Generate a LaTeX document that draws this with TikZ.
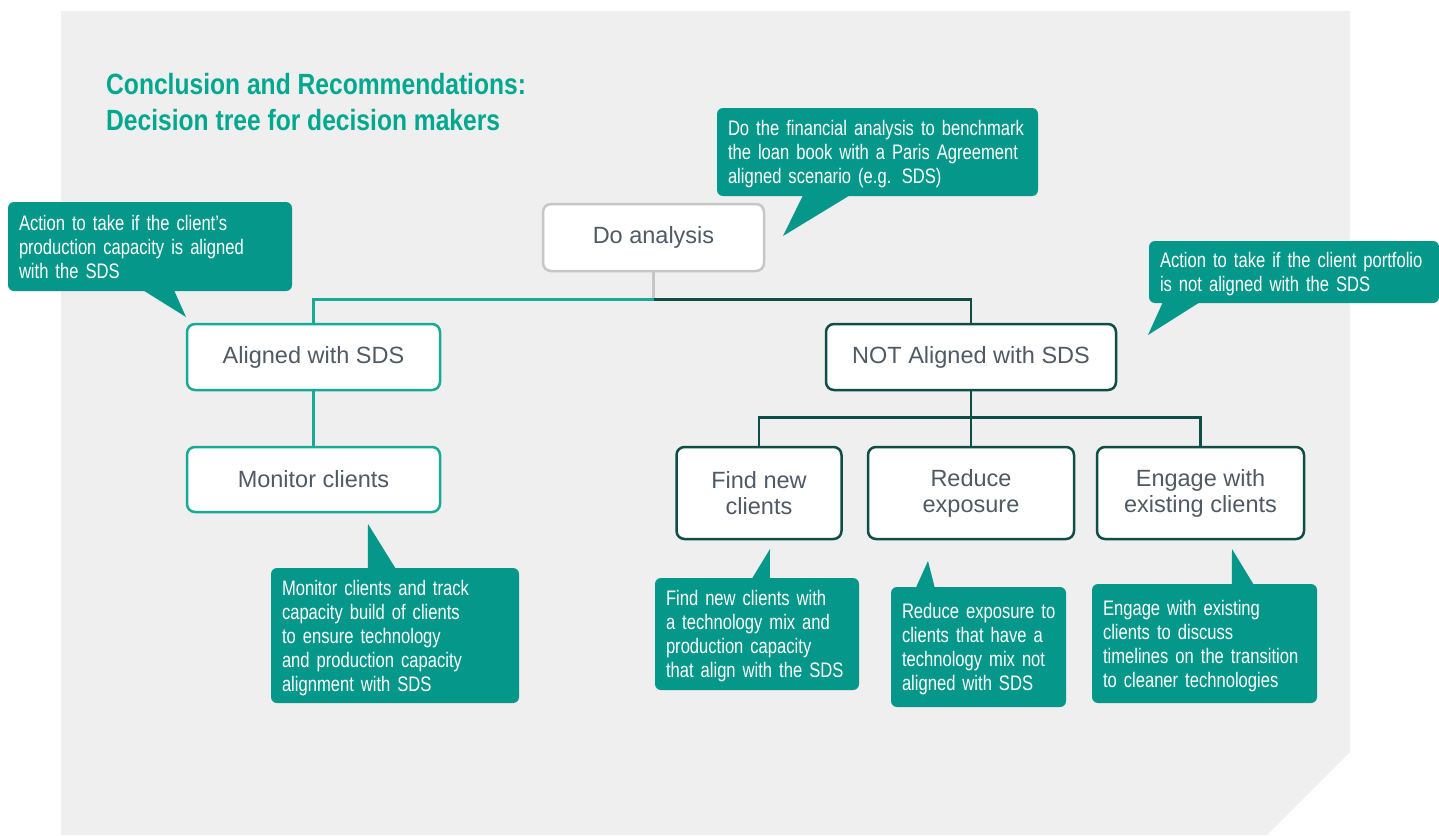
\documentclass[tikz,border=0pt]{standalone}
\usepackage{fontspec}
\setmainfont{Liberation Sans}
\newfontfamily\notefont[FakeStretch=0.79]{Liberation Sans}
\newfontfamily\titlefont[FakeStretch=0.84]{Liberation Sans}
\usetikzlibrary{positioning}

\definecolor{panelgray}{HTML}{EFEFEF}
\definecolor{notefill}{HTML}{04978A}
\definecolor{titleteal}{HTML}{00A88F}
\definecolor{lineteal}{HTML}{17AA96}
\definecolor{darkgreen}{HTML}{0F4E47}
\definecolor{boxgray}{HTML}{C6C6C6}
\definecolor{txtgray}{HTML}{4F5A64}

% lines of a callout, never broken
\newcommand{\notelines}[1]{\raisebox{-3pt}[\height][\depth]{\begin{tabular}{@{}l@{}}#1\end{tabular}}}

\begin{document}
\begin{tikzpicture}[x=1pt,y=-1pt,on grid,
   box/.style={draw,line width=2.5pt,fill=white,rounded corners=8pt,inner sep=0pt,
     align=center,text=txtgray,font=\fontsize{23.5}{26}\selectfont},
   startbox/.style={box,draw=boxgray},
   okbox/.style={box,draw=lineteal},
   notbox/.style={box,draw=darkgreen},
   note/.style={fill=notefill,rounded corners=6pt,text=white,align=left,
     inner xsep=11pt,inner ysep=0pt,font=\notefont\fontsize{21}{24}\selectfont},
   title/.style={anchor=base west,inner sep=0pt,text=titleteal,
     font=\titlefont\bfseries\fontsize{29.3}{36}\selectfont},
   okline/.style={draw=lineteal,line width=2.5pt},
   notline/.style={draw=darkgreen,line width=2.5pt},
   startline/.style={draw=boxgray,line width=2.5pt}]
   \useasboundingbox (0,0) rectangle (1439,835);
   % background panel with cut corner
   \fill[panelgray] (61,11) -- (1350,11) -- (1350,752) -- (1267,835) -- (61,835) -- cycle;

   \node[title] (ttl1) at (106,94) {Conclusion and Recommendations:};
   \node[title] (ttl2) at (106,130) {Decision tree for decision makers};

   % callouts
   \node[note,text width=262pt,minimum height=89pt] (cA) at (150,246.5)
     {\notelines{Action to take if the client’s\\production capacity is aligned\\with the SDS}};
   \node[note,text width=299pt,minimum height=88pt] (cD) at (877.5,152)
     {\notelines{Do the financial analysis to benchmark\\the loan book with a Paris Agreement\\aligned scenario (e.g. SDS)}};
   \node[note,text width=268pt,minimum height=62pt] (cN) at (1294,272)
     {\notelines{Action to take if the client portfolio\\is not aligned with the SDS}};
   \node[note,text width=226pt,minimum height=135pt] (cM) at (395,635.5)
     {\notelines{Monitor clients and track\\capacity build of clients\\to ensure technology\\and production capacity\\alignment with SDS}};
   \node[note,text width=182pt,minimum height=112pt] (cF) at (757,634)
     {\notelines{Find new clients with\\a technology mix and\\production capacity\\that align with the SDS}};
   \node[note,text width=153pt,minimum height=120pt] (cR) at (978.5,647)
     {\notelines{Reduce exposure to\\clients that have a\\technology mix not\\aligned with SDS}};
   \node[note,text width=203pt,minimum height=119pt] (cE) at (1204.5,643.5)
     {\notelines{Engage with existing\\clients to discuss\\timelines on the transition\\to cleaner technologies}};

   % callout pointers
   \fill[notefill] ([xshift=-7pt,yshift=1pt]cA.south) -- ([xshift=24pt,yshift=1pt]cA.south) -- (186,317) -- cycle;
   \fill[notefill] ([xshift=-74.5pt,yshift=1pt]cD.south) -- ([xshift=-27.5pt,yshift=1pt]cD.south) -- (783,236) -- cycle;
   \fill[notefill] ([xshift=14pt,yshift=1pt]cN.south west) -- ([xshift=51pt,yshift=1pt]cN.south west) -- (1148,335) -- cycle;
   \fill[notefill] ([xshift=97pt,yshift=-1pt]cM.north west) -- ([xshift=125pt,yshift=-1pt]cM.north west) -- (368,524) -- cycle;
   \fill[notefill] ([xshift=97pt,yshift=-1pt]cF.north west) -- ([xshift=115pt,yshift=-1pt]cF.north west) -- (770,549) -- cycle;
   \fill[notefill] ([xshift=25pt,yshift=-1pt]cR.north west) -- ([xshift=44pt,yshift=-1pt]cR.north west) -- (928,561) -- cycle;
   \fill[notefill] ([xshift=140pt,yshift=-1pt]cE.north west) -- ([xshift=162pt,yshift=-1pt]cE.north west) -- (1232,549) -- cycle;

   % tree boxes
   \node[startbox,minimum width=221pt,minimum height=67pt] (anal) at (653.5,237.5) {Do analysis};
   \node[okbox,minimum width=253pt,minimum height=66pt] (align) at (313.5,357) {Aligned with SDS};
   \node[okbox,minimum width=253pt,minimum height=65pt] (monit) [below=122.5pt of align] {Monitor clients};
   \node[notbox,minimum width=290pt,minimum height=66pt] (notal) at (971,357) {NOT Aligned with SDS};
   \node[notbox,minimum width=206pt,minimum height=92pt] (reduc) [below=136pt of notal] {Reduce\\exposure};
   \node[notbox,minimum width=165pt,minimum height=92pt] (findn) [left=212pt of reduc] {Find new\\clients};
   \node[notbox,minimum width=207pt,minimum height=92pt] (engag) [right=229.5pt of reduc] {Engage with\\existing clients};

   % connectors
   \draw[startline] (anal.south) -- ++(0,27.25) coordinate (fork);
   \draw[okline] (fork) -| (align.north);
   \draw[notline] (fork) -| (notal.north);
   \draw[okline] (align.south) -- (monit.north);
   \draw[notline] (notal.south) -- ++(0,26) coordinate (fork2);
   \draw[notline] (fork2) -| (findn.north);
   \draw[notline] (fork2) -- (reduc.north);
   \draw[notline] (fork2) -| (engag.north);
\end{tikzpicture}
\end{document}
